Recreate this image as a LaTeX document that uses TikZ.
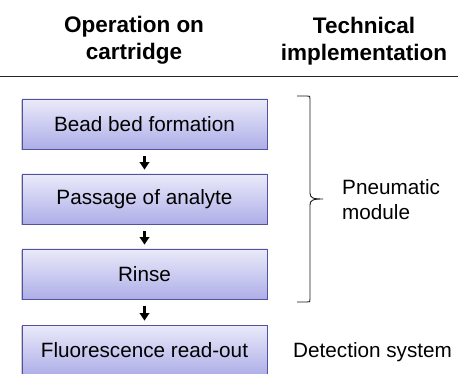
\documentclass[tikz,border=0pt]{standalone}
\usepackage{fontspec}
\setmainfont{Liberation Sans}
\usetikzlibrary{arrows.meta,shadows}
\definecolor{boxtop}{RGB}{234,234,250}
\definecolor{boxbot}{RGB}{174,174,232}
\definecolor{boxline}{RGB}{82,82,160}
\tikzset{
  stepbox/.style={draw=boxline, line width=0.8pt, top color=boxtop, bottom color=boxbot,
    minimum width=245pt, minimum height=50pt, inner sep=0pt,
    font=\fontsize{20.7}{24.8}\selectfont,
    drop shadow={shadow xshift=-1pt, shadow yshift=-1.2pt, opacity=0.35, fill=black!60}},
  flowarrow/.style={line width=2.8pt, -{Triangle[width=9.5pt,length=7.5pt]}, shorten <=7pt, shorten >=4pt, xshift=-2pt},
  headtext/.style={font=\fontsize{22.5}{27}\selectfont\bfseries, align=center, inner sep=0pt},
  bodytext/.style={font=\fontsize{20.7}{24.8}\selectfont, align=left, inner sep=0pt},
}
\begin{document}
\begin{tikzpicture}[x=1pt, y=-1pt]
\useasboundingbox (0,0) rectangle (458,374);
\clip (0,0) rectangle (458,374);
% headers
\node[headtext] (h1) at (134,40.7) {Operation on\\cartridge};
\node[headtext] (h2) at (364,40.7) {Technical\\implementation};
\coordinate (l1) at (0,77);
\coordinate (l2) at (458,77);
\draw[line width=1pt, black!85] (l1) -- (l2);
% boxes
\node[stepbox] (b1) at (144.5,124) {Bead bed formation};
\node[stepbox] (b2) at (144.5,199) {Passage of analyte};
\node[stepbox] (b3) at (144.5,274) {Rinse};
\node[stepbox] (b4) at (144.5,350) {Fluorescence read-out};
% arrows
\draw[flowarrow] (b1) -- (b2);
\draw[flowarrow] (b2) -- (b3);
\draw[flowarrow] (b3) -- (b4);
% brace
\coordinate (bt) at (297,96);
\coordinate (bb) at (297,302);
\coordinate (tip) at (323,199);
\draw[line width=0.9pt, black!90, line join=round]
  (bt) -- (307,96) .. controls (310,96) .. (310,99)
  -- (310,193) .. controls (310,198) and (313,199) .. (tip)
  (tip) .. controls (313,199) and (310,200) .. (310,205)
  -- (310,299) .. controls (310,302) .. (307,302) -- (bb);
% right texts
\node[bodytext, anchor=west] (pm) at (342,199.5) {Pneumatic\\module};
\node[bodytext, anchor=base west] (ds) at (b4.base -| 293,0) {Detection system};
\end{tikzpicture}
\end{document}
